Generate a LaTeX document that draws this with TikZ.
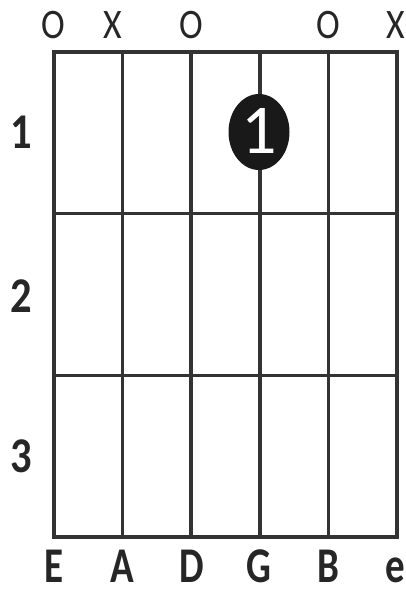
\documentclass[tikz,border=0pt]{standalone}
\usepackage{fontspec}
\setmainfont{Carlito}
\newfontfamily\narrowfont[FakeStretch=0.85]{Carlito}
\newfontfamily\narrowbold[FakeStretch=0.78]{Carlito}
\begin{document}
\begin{tikzpicture}[x=1pt,y=-1pt,
    gridline/.style={line width=3.5pt,draw=black!80,line cap=rect},
    openmark/.style={anchor=base,text=black!85,font=\narrowfont\fontsize{42}{42}\selectfont},
    stringname/.style={anchor=base,inner sep=1pt,text=black!85,font=\narrowbold\bfseries\fontsize{50}{50}\selectfont},
    fretnum/.style={anchor=base,text=black!85,font=\narrowfont\bfseries\fontsize{50}{50}\selectfont}]
\useasboundingbox (0,0) rectangle (406,592);
% strings and frets
\foreach \i in {0,...,5}
    \draw[gridline] ({54+\i*68.6},52) -- ({54+\i*68.6},537);
\foreach \j in {0,...,3}
    \draw[gridline] (54,{52+\j*161.7}) -- (397,{52+\j*161.7});
% open / muted strings
\node[openmark] (m1) at (53,38) {O};
\node[openmark] (m2) at (113,38) {X};
\node[openmark] (m3) at (191,38) {O};
\node[openmark] (m5) at (328,38) {O};
\node[openmark] (m6) at (396,38) {X};
% fret numbers
\node[fretnum] (f1) at (21,148) {1};
\node[fretnum] (f2) at (21,312) {2};
\node[fretnum] (f3) at (21,472) {3};
% string names
\foreach \s/\x in {E/54,A/122,D/192,G/259,B/328,e/395}
    \node[stringname] (s\s) at (\x,582) {\s};
% finger
\fill[black!90] (259,132) ellipse[x radius=30.5,y radius=38];
\node[anchor=base,text=white,font=\fontsize{70}{70}\selectfont] (dot) at (259,153) {1};
\end{tikzpicture}
\end{document}
